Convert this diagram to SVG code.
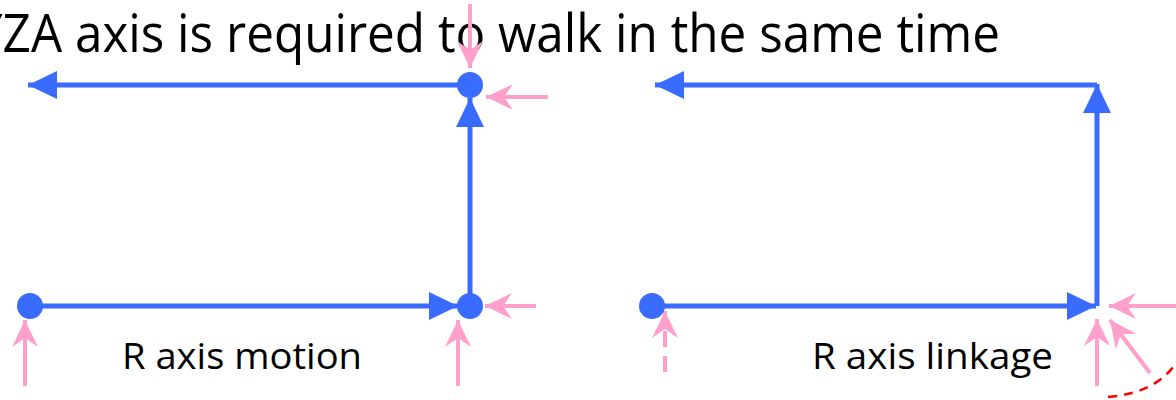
<svg xmlns="http://www.w3.org/2000/svg" width="1176" height="400" viewBox="0 0 1176 400">
  <style>
    .txt { font-family: "Open Sans", "Noto Sans", "Liberation Sans", sans-serif; fill: #000; }
    .blue { stroke: #3A6BFF; stroke-width: 5; fill: none; }
    .pink { stroke: #FF9FCB; stroke-width: 4; fill: none; }
    .dot { fill: #3A6BFF; }
    .red { stroke: #FF0000; stroke-width: 2.5; fill: none; stroke-dasharray: 9 7; }
  </style>
  <defs>
    <marker id="bArrow" markerUnits="userSpaceOnUse" markerWidth="30" markerHeight="30" refX="29" refY="14" orient="auto">
      <path d="M0,0 L29,14 L0,28 Z" fill="#3A6BFF"/>
    </marker>
    <marker id="pArrow" markerUnits="userSpaceOnUse" markerWidth="30" markerHeight="28" refX="27" refY="13" orient="auto">
      <path d="M0,0 L27,13 L0,26 L9,13 Z" fill="#FF9FCB"/>
    </marker>
  </defs>

  <rect width="1176" height="400" fill="#fff"/>

  <g id="title">
    <text class="txt" x="-25" y="52" font-size="53" textLength="1025" lengthAdjust="spacingAndGlyphs">YZA axis is required to walk in the same time</text>
  </g>

  <g id="connectors">
    <!-- left diagram -->
    <line class="blue" x1="30" y1="306" x2="458" y2="306" marker-end="url(#bArrow)"/>
    <line class="blue" x1="470" y1="306" x2="470" y2="98" marker-end="url(#bArrow)"/>
    <line class="blue" x1="470" y1="85" x2="28" y2="85" marker-end="url(#bArrow)"/>
    <!-- right diagram -->
    <line class="blue" x1="652" y1="306" x2="1096" y2="306" marker-end="url(#bArrow)"/>
    <line class="blue" x1="1097" y1="306" x2="1097" y2="84" marker-end="url(#bArrow)"/>
    <line class="blue" x1="1097" y1="85" x2="655" y2="85" marker-end="url(#bArrow)"/>

    <!-- pink force arrows, left -->
    <line class="pink" x1="25" y1="386" x2="25" y2="320" marker-end="url(#pArrow)"/>
    <line class="pink" x1="458" y1="386" x2="458" y2="320" marker-end="url(#pArrow)"/>
    <line class="pink" x1="536" y1="306" x2="485" y2="306" marker-end="url(#pArrow)"/>
    <line class="pink" x1="470" y1="4" x2="470" y2="68" marker-end="url(#pArrow)"/>
    <line class="pink" x1="548" y1="97" x2="486" y2="97" marker-end="url(#pArrow)"/>

    <!-- pink force arrows, right -->
    <line class="pink" x1="665" y1="372" x2="665" y2="311" stroke-dasharray="16 9" marker-end="url(#pArrow)"/>
    <line class="pink" x1="1176" y1="306" x2="1109" y2="306" marker-end="url(#pArrow)"/>
    <line class="pink" x1="1097" y1="386" x2="1097" y2="319" marker-end="url(#pArrow)"/>
    <line class="pink" x1="1150" y1="373" x2="1110" y2="320" marker-end="url(#pArrow)"/>

    <path class="red" d="M1108,397 Q1158,393 1178,360"/>
  </g>

  <g id="node-left-start"><circle class="dot" cx="30" cy="306" r="13"/></g>
  <g id="node-left-corner"><circle class="dot" cx="470" cy="306" r="13"/></g>
  <g id="node-left-top"><circle class="dot" cx="470" cy="85" r="13"/></g>
  <g id="node-right-start"><circle class="dot" cx="652" cy="306" r="13"/></g>

  <g id="labels">
    <text class="txt" x="122" y="369" font-size="37" textLength="240" lengthAdjust="spacingAndGlyphs">R axis motion</text>
    <text class="txt" x="812" y="369" font-size="37" textLength="241" lengthAdjust="spacingAndGlyphs">R axis linkage</text>
  </g>
</svg>
